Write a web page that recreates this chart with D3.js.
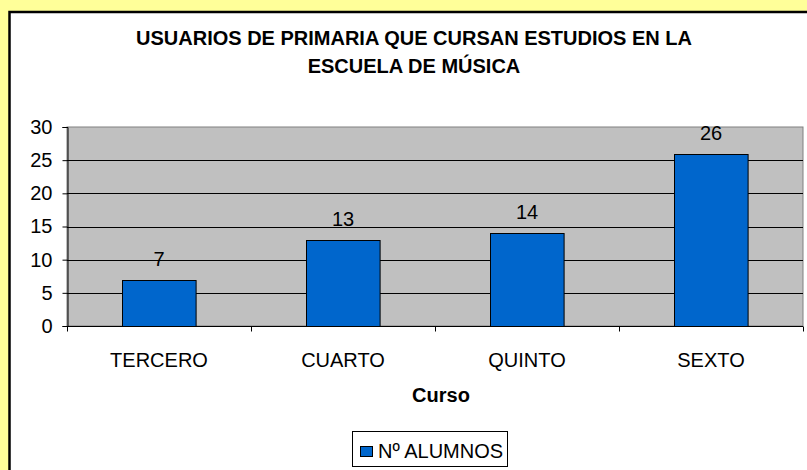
<!DOCTYPE html>
<html><head><meta charset="utf-8">
<script src="https://cdn.jsdelivr.net/npm/d3@7/dist/d3.min.js"></script>
<style>html,body{margin:0;padding:0;background:#FFFF99;overflow:hidden}</style>
</head><body>
<svg id="c" width="807" height="470"></svg>
<script>
const categories = ["TERCERO", "CUARTO", "QUINTO", "SEXTO"];
const values = [7, 13, 14, 26];
const yTicks = [0, 5, 10, 15, 20, 25, 30];
const seriesName = "Nº ALUMNOS";
const titleLines = ["USUARIOS DE PRIMARIA QUE CURSAN ESTUDIOS EN LA", "ESCUELA DE MÚSICA"];
const xTitle = "Curso";

const svg = d3.select("#c");
const font = "Liberation Sans, Arial, sans-serif";
const fs = 20;
svg.append("rect").attr("x", 0).attr("y", 0).attr("width", 807).attr("height", 470).attr("fill", "#FFFF99");
svg.append("rect").attr("x", 9.5).attr("y", 12).attr("width", 820).attr("height", 480)
  .attr("fill", "#fff").attr("stroke", "#000").attr("stroke-width", 2.5);

const L = 67, R = 803, T = 127, B = 326;
const x = d3.scaleBand().domain(categories).range([L, R]).paddingInner(0.6).paddingOuter(0.3);
const y = d3.scaleLinear().domain([0, 30]).range([B, T]);

svg.append("rect").attr("x", L).attr("y", T).attr("width", R - L).attr("height", B - T)
  .attr("fill", "#C0C0C0").attr("stroke", "#808080").attr("stroke-width", 1);

svg.append("g").selectAll("line").data(yTicks.filter(d => d > 0 && d < 30)).join("line")
  .attr("x1", L).attr("x2", R).attr("y1", d => Math.round(y(d)) + 0.5).attr("y2", d => Math.round(y(d)) + 0.5)
  .attr("stroke", "#000").attr("stroke-width", 1);

svg.append("g").selectAll("rect").data(values).join("rect")
  .attr("x", (d, i) => Math.round(x(categories[i])) + 0.5)
  .attr("y", d => Math.round(y(d)) + 0.5)
  .attr("width", x.bandwidth())
  .attr("height", d => B - Math.round(y(d)))
  .attr("fill", "#0066CC").attr("stroke", "#000").attr("stroke-width", 1);

svg.append("g").selectAll("text").data(values).join("text")
  .attr("x", (d, i) => x(categories[i]) + x.bandwidth() / 2)
  .attr("y", d => y(d) - 14)
  .attr("text-anchor", "middle").attr("font-family", font).attr("font-size", fs).attr("fill", "#000")
  .text(d => d);

// Y axis
const ya = d3.axisLeft(y).tickValues(yTicks).tickSize(5).tickPadding(10);
const gy = svg.append("g").attr("transform", `translate(${L + 0.5},0)`).call(ya);
gy.select(".domain").attr("stroke", "#000");
gy.selectAll("line").attr("stroke", "#000");
gy.selectAll("text").attr("font-family", font).attr("font-size", fs).attr("fill", "#000");

// X axis
const gx = svg.append("g").attr("transform", `translate(0,${B + 0.5})`);
gx.append("line").attr("x1", L).attr("x2", R).attr("stroke", "#000");
const step = (R - L) / categories.length;
gx.selectAll("line.t").data(d3.range(categories.length + 1)).join("line").attr("class", "t")
  .attr("x1", i => Math.round(L + i * step) + 0.5).attr("x2", i => Math.round(L + i * step) + 0.5)
  .attr("y1", 0).attr("y2", 5).attr("stroke", "#000");
gx.selectAll("text").data(categories).join("text")
  .attr("x", d => x(d) + x.bandwidth() / 2).attr("y", 40)
  .attr("text-anchor", "middle").attr("font-family", font).attr("font-size", fs).attr("fill", "#000")
  .text(d => d);

svg.append("text").attr("x", 441).attr("y", 402).attr("text-anchor", "middle")
  .attr("font-family", font).attr("font-size", fs).attr("font-weight", "bold").text(xTitle);

svg.append("g").selectAll("text").data(titleLines).join("text")
  .attr("x", 414).attr("y", (d, i) => 45 + i * 28).attr("text-anchor", "middle")
  .attr("font-family", font).attr("font-size", fs).attr("font-weight", "bold").text(d => d);

// Legend
const lg = svg.append("g");
lg.append("rect").attr("x", 352.5).attr("y", 431.5).attr("width", 155).attr("height", 35)
  .attr("fill", "#fff").attr("stroke", "#000");
lg.append("rect").attr("x", 360.5).attr("y", 446.5).attr("width", 12).attr("height", 10)
  .attr("fill", "#0066CC").attr("stroke", "#000");
lg.append("text").attr("x", 378).attr("y", 458).attr("font-family", font).attr("font-size", fs)
  .attr("fill", "#000").text(seriesName);
</script>
</body></html>
